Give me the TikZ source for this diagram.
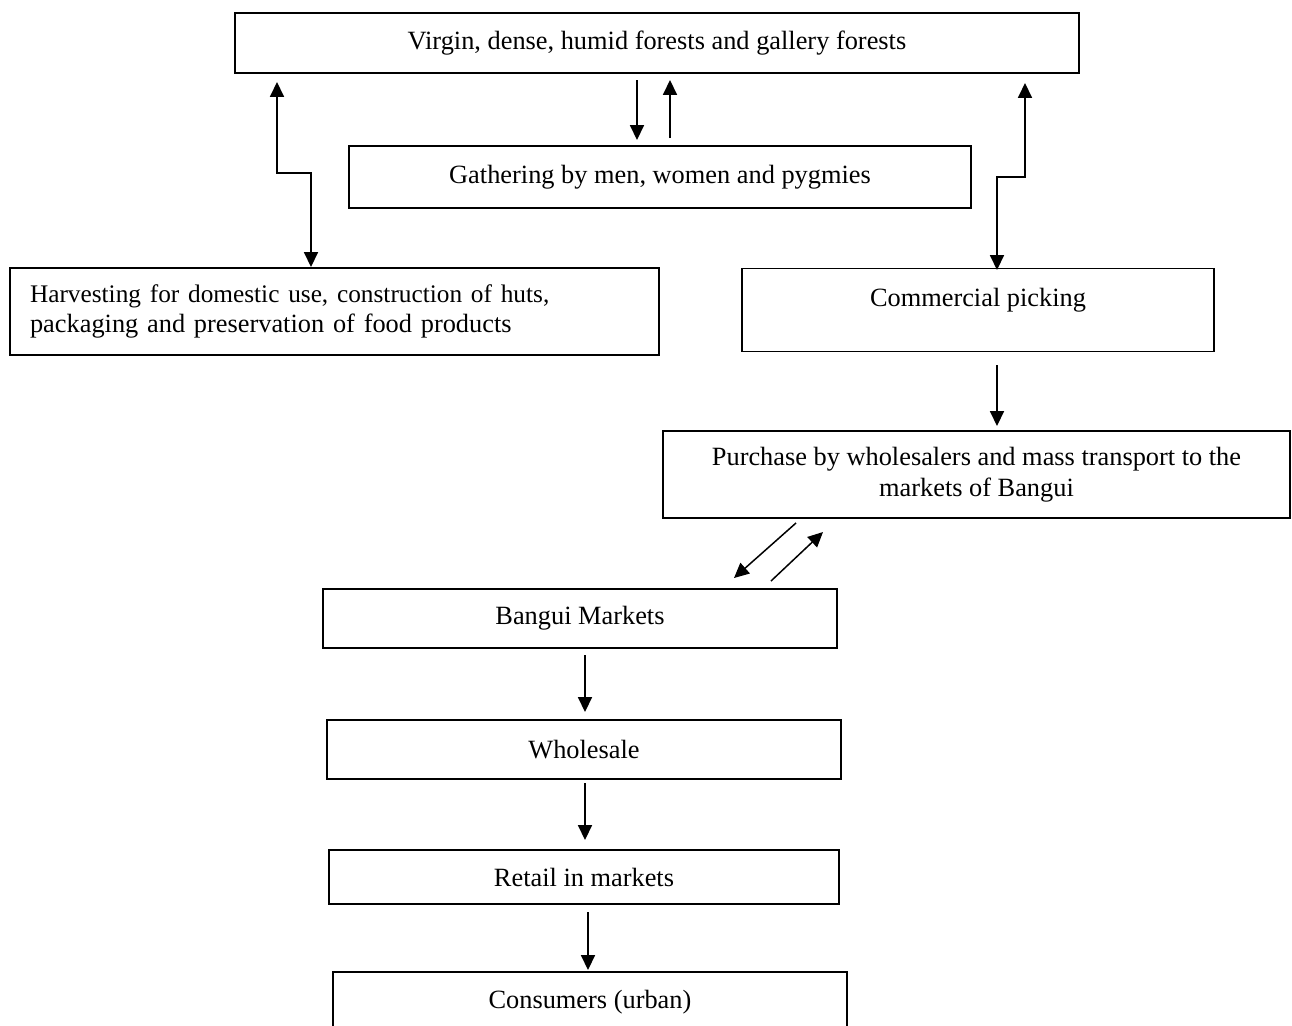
\documentclass[tikz,border=0pt]{standalone}
\usepackage{fontspec}
\setmainfont{Liberation Serif}
\usetikzlibrary{arrows.meta}
\tikzset{
  box/.style={draw, line width=1.1pt, inner sep=0pt, align=center, font=\fontsize{15pt}{17.3pt}\selectfont},
  arr/.style={line width=0.85pt, -{Triangle[length=8.5pt,width=8pt]}},
  darr/.style={line width=0.85pt, {Triangle[length=8.5pt,width=8pt]}-{Triangle[length=8.5pt,width=8pt]}}
}
\begin{document}
\begin{tikzpicture}[x=0.02cm,y=-0.02cm]
\useasboundingbox (0,0) rectangle (1292,1025);
\node[box, minimum width=16.88cm, minimum height=1.2cm] (top) at (657,43) {Virgin, dense, humid forests and gallery forests};
\node[box, minimum width=12.44cm, minimum height=1.24cm] (gather) at (660,177) {Gathering by men, women and pygmies};
\node[box, minimum width=12.98cm, minimum height=1.74cm, text width=12.18cm, inner xsep=0.4cm, align=left] (harv) at (334.5,311.5) {\begin{tabular}{@{}l@{}}{\fontsize{14.4pt}{17.3pt}\selectfont Harvesting for domestic use, construction of huts,}\\packaging and preservation of food products\end{tabular}};
\node[box, minimum width=9.44cm, minimum height=1.66cm, text height=10.3pt, text depth=14.7pt] (comm) at (978,310) {Commercial picking};
\node[box, minimum width=12.54cm, minimum height=1.74cm] (purch) at (976.5,474.5) {Purchase by wholesalers and mass transport to the\\markets of Bangui};
\node[box, minimum width=10.28cm, minimum height=1.18cm] (bangui) at (580,618.5) {Bangui Markets};
\node[box, minimum width=10.28cm, minimum height=1.18cm] (whole) at (584,749.5) {Wholesale};
\node[box, minimum width=10.2cm, minimum height=1.08cm] (retail) at (584,877) {Retail in markets};
\node[box, minimum width=10.28cm, minimum height=1.2cm, anchor=north] (cons) at (590,971) {Consumers (urban)};
% connector end points
\coordinate (a1s) at (637,80);  \coordinate (a1e) at (637,140);
\coordinate (a2s) at (670,138); \coordinate (a2e) at (670,80);
\coordinate (l1) at (277,82);   \coordinate (l2) at (311,267);
\coordinate (r1) at (1025,83);  \coordinate (r2) at (997,270);
\coordinate (a3s) at (997,365); \coordinate (a3e) at (997,426);
\coordinate (d1s) at (796,523); \coordinate (d1e) at (734,578);
\coordinate (d2s) at (771,581); \coordinate (d2e) at (823,532);
\coordinate (a4s) at (585,655); \coordinate (a4e) at (585,712);
\coordinate (a5s) at (585,783); \coordinate (a5e) at (585,840);
\coordinate (a6s) at (588,912); \coordinate (a6e) at (588,970);
\draw[arr] (a1s) -- (a1e);
\draw[arr] (a2s) -- (a2e);
\draw[darr] (l1) -- (l1 |- 0,173) -- (l2 |- 0,173) -- (l2);
\draw[darr] (r1) -- (r1 |- 0,177) -- (r2 |- 0,177) -- (r2);
\draw[arr] (a3s) -- (a3e);
\draw[arr] (d1s) -- (d1e);
\draw[arr] (d2s) -- (d2e);
\draw[arr] (a4s) -- (a4e);
\draw[arr] (a5s) -- (a5e);
\draw[arr] (a6s) -- (a6e);
\end{tikzpicture}
\end{document}
